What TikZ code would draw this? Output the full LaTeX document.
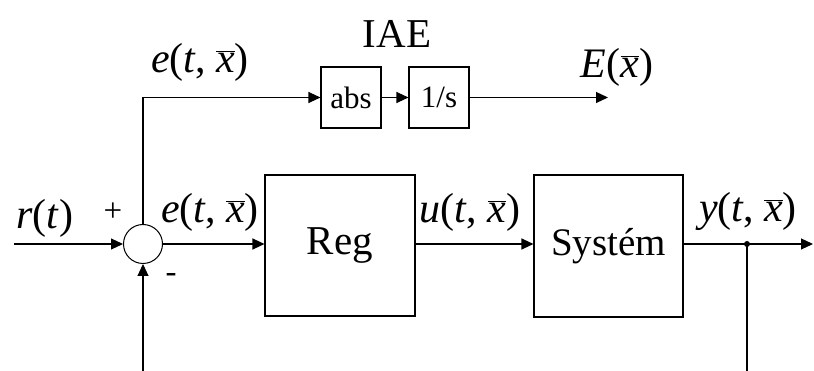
\documentclass[tikz,border=0pt]{standalone}
\usepackage{fontspec}
\setmainfont{Liberation Serif}
\usetikzlibrary{arrows.meta}
\newcommand{\xbar}{\ensuremath{\overline{\mbox{\textit{x}}}}}
\newcommand{\etx}{\textit{e}(\textit{t}, \xbar)}
\begin{document}
\begin{tikzpicture}[x=1pt,y=-1pt,
  line width=1.1pt,
  blk/.style={draw, line width=1.1pt, inner sep=0pt, font=\fontsize{41}{48}\selectfont},
  sblk/.style={draw, line width=1.1pt, inner sep=0pt, minimum width=60pt, minimum height=61pt, font=\fontsize{31}{36}\selectfont},
  arr/.style={-{Triangle[length=12pt,width=11pt]}},
  lbl/.style={font=\fontsize{42}{48}\selectfont, inner sep=0pt}]
\useasboundingbox (0,0) rectangle (814,371);
\node[draw, circle, minimum size=39pt, inner sep=0pt, line width=1pt] (sum) at (143,244) {};
\node[blk, minimum width=150pt, minimum height=141pt] (reg) at (340,245.5) {Reg};
\node[blk, minimum width=149pt, minimum height=142pt, font=\fontsize{39}{46}\selectfont] (sys) at (608.5,246) {Systém};
\node[sblk] (abs) at (351,97.5) {abs};
\node[sblk] (int) at (439,97.5) {1/s};
\coordinate (in) at (14,244);
\coordinate (out) at (813,244);
\coordinate (br) at (747,244);
\coordinate (fbr) at (747,372);
\coordinate (fbl) at (143,372);
\coordinate (eend) at (608,97.5);
\draw[arr] (in) -- (sum.west);
\draw[arr] (sum.east) -- (sum.east -| reg.west);
\draw[arr] (sum.east -| reg.east) -- (sum.east -| sys.west);
\draw[arr] (sum.east -| sys.east) -- (out);
\fill (br) circle (3pt);
\draw (br) -- (fbr);
\draw[arr] (fbl) -- (sum.south);
\draw[arr] (sum.north) |- (abs.west);
\draw[arr] (abs.east) -- (int.west);
\draw[arr] (int.east) -- (eend);
\node[lbl] (lr) at (45,218) {\textit{r}(\textit{t})};
\node[lbl, font=\fontsize{33}{38}\selectfont] (lplus) at (113,212) {+};
\node[lbl, font=\fontsize{33}{38}\selectfont] (lminus) at (171,278) {-};
\node[lbl] (le1) at (210,212) {\etx};
\node[lbl] (lu) at (470,212) {\textit{u}(\textit{t}, \xbar)};
\node[lbl] (ly) at (748,211) {\textit{y}(\textit{t}, \xbar)};
\node[lbl] (le2) at (200,62) {\etx};
\node[lbl, font=\fontsize{41}{48}\selectfont] (liae) at (397,34) {IAE};
\node[lbl] (lE) at (617,67) {\textit{E}(\xbar)};
\end{tikzpicture}
\end{document}
